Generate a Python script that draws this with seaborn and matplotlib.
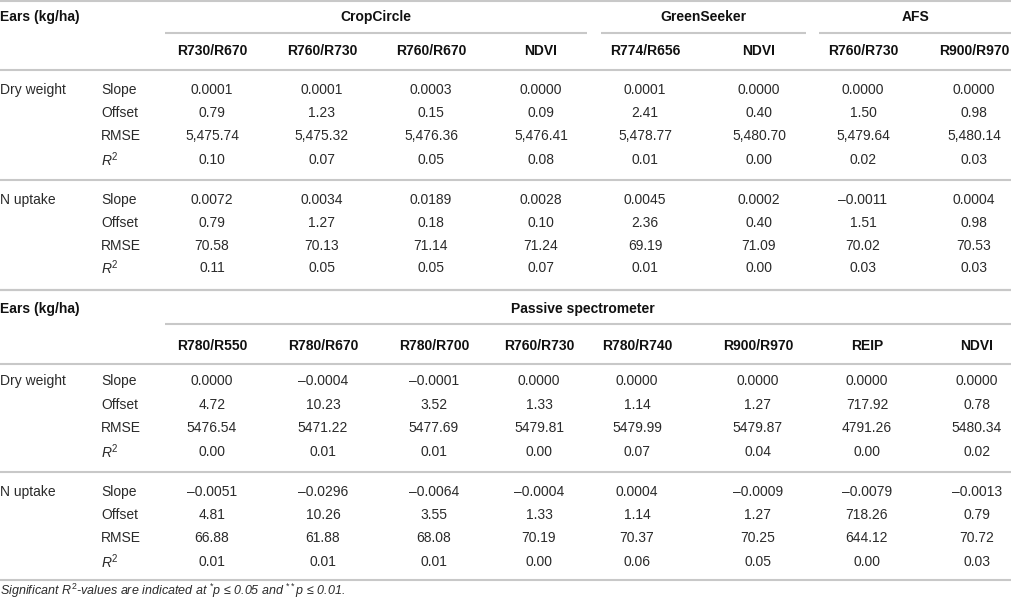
import numpy as np
import pandas as pd
import seaborn as sns
import matplotlib.pyplot as plt

# table content
stats = ["Slope", "Offset", "RMSE", "R2"]
traits = ["Dry weight", "N uptake"]

top_indices = ["R730/R670", "R760/R730", "R760/R670", "NDVI", "R774/R656", "NDVI", "R760/R730", "R900/R970"]
top_sensors = ["CropCircle", "CropCircle", "CropCircle", "CropCircle", "GreenSeeker", "GreenSeeker", "AFS", "AFS"]

top_dry_slope = ["0.0001", "0.0001", "0.0003", "0.0000", "0.0001", "0.0000", "0.0000", "0.0000"]
top_dry_offset = ["0.79", "1.23", "0.15", "0.09", "2.41", "0.40", "1.50", "0.98"]
top_dry_rmse = ["5,475.74", "5,475.32", "5,476.36", "5,476.41", "5,478.77", "5,480.70", "5,479.64", "5,480.14"]
top_dry_r2 = ["0.10", "0.07", "0.05", "0.08", "0.01", "0.00", "0.02", "0.03"]
top_n_slope = ["0.0072", "0.0034", "0.0189", "0.0028", "0.0045", "0.0002", "\u20130.0011", "0.0004"]
top_n_offset = ["0.79", "1.27", "0.18", "0.10", "2.36", "0.40", "1.51", "0.98"]
top_n_rmse = ["70.58", "70.13", "71.14", "71.24", "69.19", "71.09", "70.02", "70.53"]
top_n_r2 = ["0.11", "0.05", "0.05", "0.07", "0.01", "0.00", "0.03", "0.03"]

bot_indices = ["R780/R550", "R780/R670", "R780/R700", "R760/R730", "R780/R740", "R900/R970", "REIP", "NDVI"]
bot_sensors = ["Passive spectrometer"] * 8

bot_dry_slope = ["0.0000", "\u20130.0004", "\u20130.0001", "0.0000", "0.0000", "0.0000", "0.0000", "0.0000"]
bot_dry_offset = ["4.72", "10.23", "3.52", "1.33", "1.14", "1.27", "717.92", "0.78"]
bot_dry_rmse = ["5476.54", "5471.22", "5477.69", "5479.81", "5479.99", "5479.87", "4791.26", "5480.34"]
bot_dry_r2 = ["0.00", "0.01", "0.01", "0.00", "0.07", "0.04", "0.00", "0.02"]
bot_n_slope = ["\u20130.0051", "\u20130.0296", "\u20130.0064", "\u20130.0004", "0.0004", "\u20130.0009", "\u20130.0079", "\u20130.0013"]
bot_n_offset = ["4.81", "10.26", "3.55", "1.33", "1.14", "1.27", "718.26", "0.79"]
bot_n_rmse = ["66.88", "61.88", "68.08", "70.19", "70.37", "70.25", "644.12", "70.72"]
bot_n_r2 = ["0.01", "0.01", "0.01", "0.00", "0.06", "0.05", "0.00", "0.03"]

footnote = "Significant $R^{\\mathrm{2}}$-values are indicated at $^{*}$p \u2264 0.05 and $^{**}$p \u2264 0.01."

sns.set_theme(style="white")
plt.rcParams['font.family'] = ['Liberation Sans', 'DejaVu Sans']
plt.rcParams['mathtext.fontset'] = 'custom'
plt.rcParams['mathtext.rm'] = 'Liberation Sans'
plt.rcParams['mathtext.it'] = 'Liberation Sans:italic'
plt.rcParams['mathtext.bf'] = 'Liberation Sans:bold'

LINE = "#c8c8c8"
TXT = "#2a2a2a"
HEAD = "#111111"
FS = 10

fig = plt.figure(figsize=(10.12, 6.05), dpi=100)
ax = fig.add_axes([0, 0, 1, 1])
ax.set_xlim(0, 1012)
ax.set_ylim(605, 0)
ax.axis("off")


def hline(y, x0=0, x1=1012):
    ax.plot([x0, x1], [y, y], color=LINE, lw=1.5, solid_capstyle="butt", clip_on=False)


def stat_label(s):
    return "$R^{\\mathrm{2}}$" if s == "R2" else s


def draw_block(top, indices, sensors, col_x, group_spans, blocks):
    # blocks: list of (trait, [slope, offset, rmse, r2]) plus y rows
    hline(top["line0"])
    ax.text(0, top["title"], "Ears (kg/ha)", fontsize=FS, fontweight="bold", color=HEAD, va="center")
    groups = pd.Series(sensors).drop_duplicates().tolist()
    for g in groups:
        x0, x1 = group_spans[g]
        hline(top["gline"], x0, x1)
        ax.text((x0 + x1) / 2 - top.get("gshift", 0), top["title"], g, fontsize=FS, fontweight="bold",
                color=HEAD, va="center", ha="center")
    for x, name in zip(col_x, indices):
        ax.text(x, top["head"], name, fontsize=FS, fontweight="bold", color=HEAD, va="center", ha="center")
    hline(top["line1"])
    for (trait, vals, rows, yline) in blocks:
        ax.text(0, rows[0], trait, fontsize=FS, color=TXT, va="center")
        for s, row, y in zip(stats, vals, rows):
            ax.text(101, y, stat_label(s), fontsize=FS, color=TXT, va="center")
            for x, v in zip(col_x, row):
                ax.text(x, y, v, fontsize=FS, color=TXT, va="center", ha="center")
        hline(yline)


top_x = [212, 322, 431, 541, 645, 759, 863, 974]
draw_block(
    dict(line0=1, title=17, gline=33, head=51, line1=70),
    top_indices, top_sensors, top_x,
    {"CropCircle": (165, 587), "GreenSeeker": (601, 806), "AFS": (819, 1012)},
    [
        ("Dry weight", [top_dry_slope, top_dry_offset, top_dry_rmse, top_dry_r2], [90, 113, 136, 160], 180),
        ("N uptake", [top_n_slope, top_n_offset, top_n_rmse, top_n_r2], [200, 223, 246, 268], 290),
    ],
)

bot_x = [212, 323, 434, 539, 637, 758, 867, 977]
draw_block(
    dict(line0=290, title=309, gline=324, head=346, line1=364, gshift=6),
    bot_indices, bot_sensors, bot_x,
    {"Passive spectrometer": (165, 1012)},
    [
        ("Dry weight", [bot_dry_slope, bot_dry_offset, bot_dry_rmse, bot_dry_r2], [381, 405, 428, 452], 472),
        ("N uptake", [bot_n_slope, bot_n_offset, bot_n_rmse, bot_n_r2], [492, 515, 538, 562], 580),
    ],
)

ax.text(0, 591, footnote, fontsize=9, color=TXT, va="center", style="italic")

fig.savefig("out.png", dpi=100)
